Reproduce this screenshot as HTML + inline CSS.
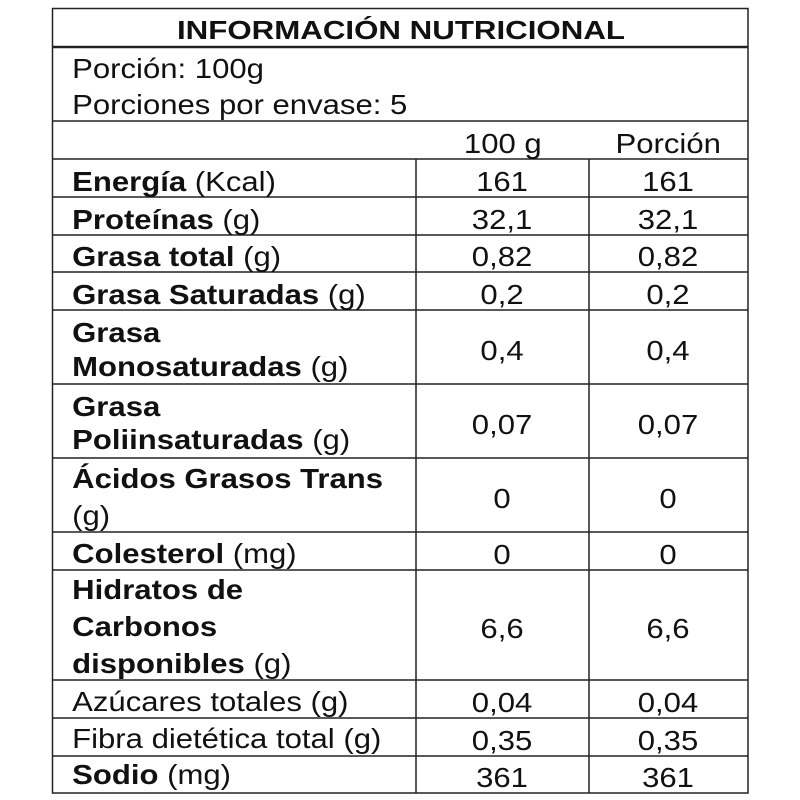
<!DOCTYPE html>
<html><head><meta charset="utf-8"><style>
html,body{margin:0;padding:0;background:#fff;}
svg{display:block;}
text{font-family:"Liberation Sans",Arial,sans-serif;font-size:28px;fill:#111;}
.b{font-weight:bold;}
</style></head><body>
<svg width="800" height="800" viewBox="0 0 800 800">
<g stroke="#222" stroke-width="1.5" fill="none">
<rect x="52.5" y="8.5" width="695.5" height="784.5"/>
<line x1="52" y1="47" x2="748" y2="47" stroke-width="2.5"/>
<line x1="52" y1="121" x2="748" y2="121"/>
<line x1="52" y1="159" x2="748" y2="159"/>
<line x1="52" y1="197" x2="748" y2="197"/>
<line x1="52" y1="235" x2="748" y2="235"/>
<line x1="52" y1="272" x2="748" y2="272"/>
<line x1="52" y1="310" x2="748" y2="310"/>
<line x1="52" y1="384" x2="748" y2="384"/>
<line x1="52" y1="458" x2="748" y2="458"/>
<line x1="52" y1="532" x2="748" y2="532"/>
<line x1="52" y1="570" x2="748" y2="570"/>
<line x1="52" y1="680" x2="748" y2="680"/>
<line x1="52" y1="718" x2="748" y2="718"/>
<line x1="52" y1="756" x2="748" y2="756"/>
<line x1="416" y1="159" x2="416" y2="793"/>
<line x1="589" y1="159" x2="589" y2="793"/>
</g>
<text class="b" x="177" y="39" style="font-size:26px" textLength="448" lengthAdjust="spacingAndGlyphs">INFORMACIÓN NUTRICIONAL</text>
<g transform="scale(1.11,1)">
<text x="65" y="78">Porción: 100g</text>
<text x="65" y="114">Porciones por envase: 5</text>
<text x="453" y="153" text-anchor="middle">100 g</text>
<text x="602" y="153" text-anchor="middle">Porción</text>

<text x="65" y="191"><tspan class="b">Energía</tspan> (Kcal)</text>
<text x="65" y="229"><tspan class="b">Proteínas</tspan> (g)</text>
<text x="65" y="266"><tspan class="b">Grasa total</tspan> (g)</text>
<text x="65" y="304"><tspan class="b">Grasa Saturadas</tspan> (g)</text>
<text x="65" y="342" class="b">Grasa</text>
<text x="65" y="376"><tspan class="b">Monosaturadas</tspan> (g)</text>
<text x="65" y="416" class="b">Grasa</text>
<text x="65" y="449"><tspan class="b">Poliinsaturadas</tspan> (g)</text>
<text x="65" y="488" class="b">Ácidos Grasos Trans</text>
<text x="65" y="525">(g)</text>
<text x="65" y="563"><tspan class="b">Colesterol</tspan> (mg)</text>
<text x="65" y="599" class="b">Hidratos de</text>
<text x="65" y="636" class="b">Carbonos</text>
<text x="65" y="673"><tspan class="b">disponibles</tspan> (g)</text>
<text x="65" y="711">Azúcares totales (g)</text>
<text x="65" y="748">Fibra dietética total (g)</text>
<text x="65" y="784"><tspan class="b">Sodio</tspan> (mg)</text>

<g text-anchor="middle">
<text x="452.3" y="191">161</text><text x="601.8" y="191">161</text>
<text x="452.3" y="229">32,1</text><text x="601.8" y="229">32,1</text>
<text x="452.3" y="266">0,82</text><text x="601.8" y="266">0,82</text>
<text x="452.3" y="304">0,2</text><text x="601.8" y="304">0,2</text>
<text x="452.3" y="360">0,4</text><text x="601.8" y="360">0,4</text>
<text x="452.3" y="434">0,07</text><text x="601.8" y="434">0,07</text>
<text x="452.3" y="508">0</text><text x="601.8" y="508">0</text>
<text x="452.3" y="564">0</text><text x="601.8" y="564">0</text>
<text x="452.3" y="638">6,6</text><text x="601.8" y="638">6,6</text>
<text x="452.3" y="712">0,04</text><text x="601.8" y="712">0,04</text>
<text x="452.3" y="750">0,35</text><text x="601.8" y="750">0,35</text>
<text x="452.3" y="787">361</text><text x="601.8" y="787">361</text>
</g>
</g>
</svg>
</body></html>
